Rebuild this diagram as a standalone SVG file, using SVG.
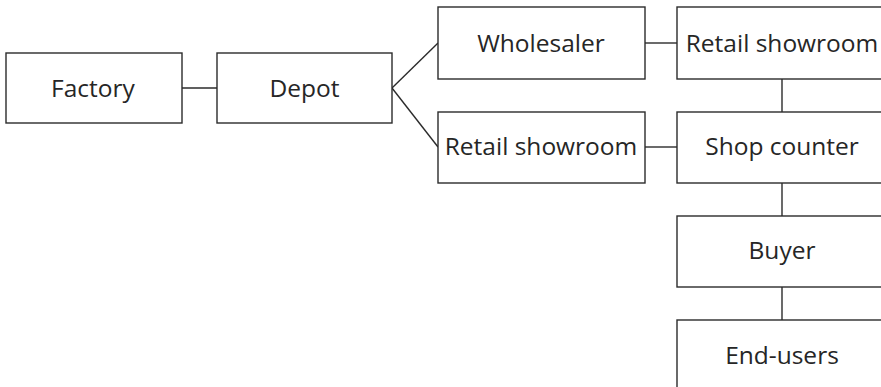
<svg xmlns="http://www.w3.org/2000/svg" width="881" height="387" viewBox="0 0 881 387">
<style>
.box{fill:#fff;stroke:#2b2b2b;stroke-width:1.4}
.lbl{font-family:"Open Sans","DejaVu Sans",sans-serif;font-size:24.5px;fill:#262626;text-anchor:middle}
.con{stroke:#2b2b2b;stroke-width:1.4;fill:none}
</style>
<rect width="881" height="387" fill="#fff"/>
<g id="connectors">
<line class="con" x1="182" y1="88" x2="217" y2="88"/>
<line class="con" x1="392" y1="88" x2="438" y2="43"/>
<line class="con" x1="392" y1="88" x2="438" y2="147"/>
<line class="con" x1="645" y1="43" x2="677" y2="43"/>
<line class="con" x1="645" y1="147" x2="677" y2="147"/>
<line class="con" x1="782" y1="79" x2="782" y2="112"/>
<line class="con" x1="782" y1="183" x2="782" y2="216"/>
<line class="con" x1="782" y1="287" x2="782" y2="320"/>
</g>
<g id="factory"><rect class="box" x="6" y="53" width="176" height="70"/><text class="lbl" x="93" y="97">Factory</text></g>
<g id="depot"><rect class="box" x="217" y="53" width="175" height="70"/><text class="lbl" x="304.5" y="97">Depot</text></g>
<g id="wholesaler"><rect class="box" x="438" y="7" width="207" height="72"/><text class="lbl" x="541" y="52">Wholesaler</text></g>
<g id="retail1"><rect class="box" x="438" y="112" width="207" height="71"/><text class="lbl" x="541" y="155">Retail showroom</text></g>
<g id="retail2"><rect class="box" x="677" y="7" width="210" height="72"/><text class="lbl" x="782" y="52">Retail showroom</text></g>
<g id="shop"><rect class="box" x="677" y="112" width="210" height="71"/><text class="lbl" x="782" y="155">Shop counter</text></g>
<g id="buyer"><rect class="box" x="677" y="216" width="210" height="71"/><text class="lbl" x="782" y="259">Buyer</text></g>
<g id="endusers"><rect class="box" x="677" y="320" width="210" height="80"/><text class="lbl" x="782" y="364">End-users</text></g>
</svg>
